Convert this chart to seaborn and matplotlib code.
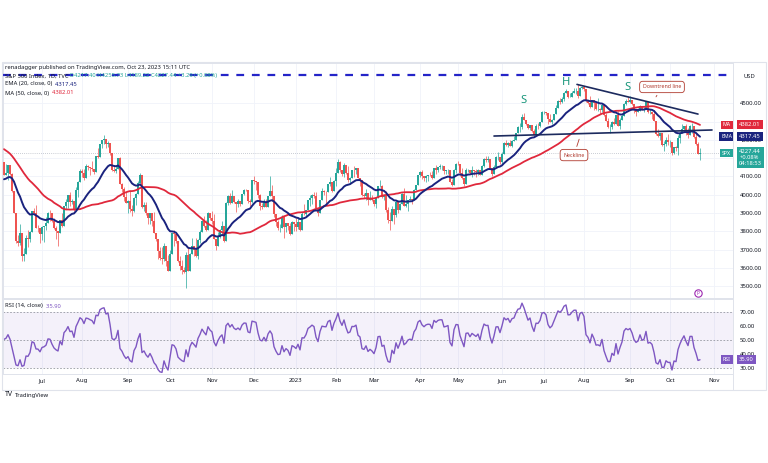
import numpy as np
import pandas as pd
import matplotlib.pyplot as plt
import matplotlib.transforms as mtransforms
from matplotlib.patches import Rectangle
import seaborn as sns

# S&P 500 daily closes before the first visible bar (Mar 24 - Jun 2, 2022),
# only used so the moving averages and RSI are warmed up
warmup_close = [4520, 4543, 4575, 4632, 4602, 4530,
                4546, 4583, 4526, 4481, 4500, 4488, 4413, 4397, 4447, 4392,
                4391, 4463, 4459, 4394, 4272, 4297, 4175, 4184, 4288, 4132,
                4155, 4175, 4301, 4147, 4123, 3991, 4001, 3935, 3930, 4024,
                4008, 4088, 3923, 3901, 3901, 3974, 3941, 3979, 4058, 4158, 4132,
                4101, 4177]

# visible bars, Jun 3 2022 - Oct 23 2023, one line per month
close = [
    4109, 4121, 4161, 4116, 4018, 3901, 3750, 3735, 3790, 3667, 3675, 3765, 3760, 3796, 3912, 3900, 3821, 3819, 3785,
    3825, 3831, 3845, 3902, 3899, 3855, 3819, 3801, 3790, 3863, 3831, 3937, 3960, 3999, 3962, 3967, 3921, 4024, 4072, 4130,
    4119, 4091, 4155, 4152, 4145, 4140, 4122, 4210, 4207, 4280, 4297, 4305, 4275, 4284, 4228, 4138, 4128, 4141, 4199, 4058, 4031, 3986, 3955,
    3967, 3924, 3909, 3980, 4006, 4067, 4110, 3932, 3946, 3901, 3873, 3900, 3856, 3790, 3758, 3693, 3655, 3647, 3719, 3640, 3586,
    3678, 3791, 3783, 3745, 3640, 3612, 3589, 3577, 3670, 3583, 3677, 3720, 3696, 3666, 3753, 3797, 3859, 3831, 3807, 3901, 3872,
    3856, 3760, 3720, 3771, 3807, 3828, 3749, 3956, 3993, 3957, 3992, 3959, 3947, 3965, 3950, 4003, 4027, 4026, 3964, 3958, 4080,
    4076, 4072, 3999, 3941, 3934, 3963, 3934, 3991, 4019, 3996, 3896, 3852, 3818, 3821, 3879, 3823, 3845, 3829, 3783, 3849, 3840,
    3825, 3853, 3808, 3895, 3893, 3919, 3970, 3983, 3999, 3991, 3929, 3899, 3973, 4020, 4017, 4016, 4060, 4071, 4018, 4077,
    4119, 4180, 4136, 4111, 4164, 4118, 4082, 4090, 4137, 4136, 4148, 4090, 4079, 3997, 3991, 4012, 3970, 3982, 3970,
    3951, 3981, 4046, 4048, 3986, 3992, 3918, 3862, 3855, 3920, 3892, 3960, 3917, 3952, 4003, 3937, 3949, 3971, 3977, 3971, 4028, 4051, 4109,
    4124, 4101, 4091, 4105, 4110, 4109, 4092, 4146, 4138, 4151, 4155, 4155, 4130, 4133, 4137, 4072, 4056, 4136, 4169,
    4168, 4120, 4091, 4061, 4136, 4138, 4119, 4138, 4131, 4124, 4136, 4110, 4159, 4198, 4192, 4193, 4146, 4115, 4151, 4205, 4206, 4180,
    4222, 4282, 4273, 4284, 4268, 4294, 4299, 4338, 4369, 4373, 4426, 4410, 4389, 4366, 4381, 4349, 4328, 4378, 4377, 4396, 4450,
    4455, 4447, 4412, 4399, 4410, 4439, 4472, 4510, 4505, 4522, 4555, 4566, 4535, 4536, 4554, 4567, 4567, 4537, 4582, 4589,
    4577, 4513, 4502, 4478, 4518, 4499, 4468, 4469, 4464, 4490, 4437, 4404, 4370, 4370, 4400, 4388, 4436, 4376, 4406, 4433, 4497, 4514, 4508,
    4516, 4497, 4465, 4451, 4457, 4487, 4462, 4467, 4505, 4450, 4454, 4444, 4402, 4330, 4320, 4337, 4274, 4275, 4300, 4288,
    4288, 4229, 4263, 4258, 4308, 4336, 4358, 4377, 4350, 4327, 4374, 4374, 4315, 4278, 4224, 4227,
]
high = [
    4143, 4169, 4164, 4164, 4120, 3974, 3838, 3778, 3838, 3729, 3707, 3780, 3810, 3802, 3913, 3928, 3946, 3837, 3818,
    3829, 3832, 3876, 3906, 3919, 3880, 3874, 3829, 3796, 3863, 3903, 3939, 3975, 3999, 4013, 3975, 3953, 4040, 4078, 4140,
    4141, 4140, 4167, 4161, 4152, 4187, 4138, 4211, 4257, 4280, 4301, 4325, 4302, 4292, 4267, 4196, 4159, 4156, 4200, 4204, 4063, 4044, 4015,
    3970, 4018, 3942, 3987, 4010, 4077, 4119, 4063, 3961, 3959, 3880, 3900, 3876, 3907, 3790, 3727, 3715, 3716, 3736, 3688, 3671,
    3696, 3791, 3806, 3797, 3711, 3665, 3641, 3606, 3685, 3713, 3683, 3762, 3714, 3765, 3757, 3810, 3862, 3886, 3860, 3905, 3893,
    3911, 3894, 3751, 3796, 3814, 3859, 3818, 3959, 4001, 4009, 4028, 3983, 3954, 3979, 3962, 4003, 4034, 4034, 4013, 3976, 4080,
    4101, 4077, 4053, 4002, 3957, 3977, 3977, 3991, 4101, 4053, 3958, 3876, 3864, 3839, 3890, 3872, 3846, 3846, 3848, 3859, 3840,
    3872, 3873, 3839, 3906, 3951, 3919, 3970, 3997, 4004, 4016, 4015, 3912, 3973, 4039, 4028, 4019, 4061, 4095, 4063, 4079,
    4148, 4195, 4182, 4124, 4176, 4161, 4157, 4095, 4138, 4159, 4149, 4136, 4081, 4050, 4010, 4029, 3982, 4019, 3998,
    3972, 3985, 4048, 4079, 4051, 4000, 4018, 3935, 3906, 3938, 3894, 3965, 3958, 3956, 4010, 4039, 4000, 3972, 3996, 3979, 4030, 4055, 4110,
    4128, 4133, 4100, 4108, 4110, 4125, 4132, 4148, 4164, 4152, 4169, 4163, 4148, 4138, 4143, 4127, 4088, 4139, 4171,
    4184, 4164, 4148, 4083, 4148, 4143, 4131, 4155, 4133, 4143, 4139, 4135, 4165, 4202, 4213, 4210, 4187, 4131, 4165, 4213, 4232, 4193,
    4232, 4290, 4299, 4288, 4300, 4298, 4322, 4340, 4375, 4391, 4439, 4448, 4401, 4387, 4382, 4367, 4362, 4385, 4390, 4398, 4458,
    4456, 4454, 4422, 4440, 4412, 4443, 4489, 4517, 4528, 4532, 4563, 4578, 4565, 4555, 4568, 4581, 4582, 4607, 4590, 4595,
    4585, 4550, 4519, 4540, 4520, 4503, 4503, 4528, 4476, 4490, 4478, 4449, 4421, 4386, 4401, 4418, 4437, 4458, 4418, 4440, 4501, 4521, 4532,
    4541, 4515, 4497, 4457, 4474, 4490, 4479, 4479, 4511, 4498, 4466, 4451, 4461, 4376, 4357, 4338, 4314, 4293, 4318, 4333,
    4300, 4281, 4263, 4268, 4324, 4341, 4385, 4378, 4386, 4367, 4383, 4394, 4375, 4339, 4287, 4256,
]
low = [
    4107, 4109, 4080, 4110, 4017, 3900, 3735, 3722, 3723, 3640, 3637, 3705, 3716, 3743, 3810, 3889, 3820, 3799, 3738,
    3752, 3742, 3810, 3859, 3858, 3849, 3812, 3759, 3722, 3817, 3824, 3860, 3922, 3927, 3938, 3947, 3911, 3953, 3990, 4079,
    4097, 4079, 4107, 4135, 4108, 4128, 4112, 4178, 4201, 4226, 4256, 4277, 4253, 4262, 4218, 4129, 4124, 4119, 4147, 4057, 4017, 3965, 3954,
    3903, 3907, 3886, 3907, 3944, 4023, 4084, 3929, 3913, 3888, 3838, 3839, 3827, 3789, 3750, 3648, 3644, 3624, 3640, 3610, 3584,
    3584, 3726, 3722, 3739, 3633, 3590, 3569, 3571, 3491, 3582, 3632, 3680, 3666, 3658, 3648, 3734, 3799, 3825, 3803, 3808, 3863,
    3843, 3758, 3698, 3722, 3765, 3786, 3744, 3859, 3944, 3949, 3953, 3954, 3906, 3933, 3940, 3956, 3999, 4020, 3956, 3938, 3954,
    4058, 4027, 3984, 3918, 3922, 3933, 3934, 3935, 3994, 3966, 3880, 3828, 3807, 3796, 3828, 3765, 3796, 3809, 3781, 3801, 3801,
    3800, 3815, 3802, 3809, 3890, 3877, 3925, 3937, 3947, 3985, 3925, 3886, 3909, 3972, 3997, 3949, 4014, 4048, 4015, 4021,
    4048, 4142, 4123, 4103, 4097, 4111, 4070, 4060, 4093, 4095, 4114, 4089, 4048, 3995, 3981, 3972, 3943, 3977, 3968,
    3940, 3928, 3988, 4044, 3980, 3970, 3908, 3847, 3809, 3874, 3838, 3876, 3902, 3917, 3964, 3936, 3931, 3909, 3970, 3952, 3999, 4041, 4056,
    4096, 4087, 4073, 4069, 4073, 4104, 4087, 4100, 4114, 4124, 4140, 4136, 4115, 4114, 4114, 4071, 4049, 4073, 4119,
    4163, 4104, 4088, 4048, 4080, 4123, 4115, 4099, 4110, 4099, 4110, 4109, 4113, 4154, 4180, 4180, 4145, 4103, 4129, 4154, 4190, 4166,
    4169, 4241, 4266, 4263, 4265, 4261, 4292, 4304, 4349, 4345, 4362, 4407, 4380, 4360, 4353, 4341, 4328, 4335, 4361, 4371, 4423,
    4442, 4437, 4385, 4397, 4389, 4408, 4464, 4491, 4494, 4504, 4514, 4557, 4527, 4532, 4545, 4556, 4548, 4528, 4557, 4580,
    4567, 4505, 4497, 4474, 4491, 4464, 4461, 4458, 4443, 4453, 4432, 4403, 4365, 4335, 4360, 4383, 4401, 4376, 4357, 4417, 4432, 4493, 4507,
    4502, 4490, 4448, 4431, 4451, 4467, 4461, 4453, 4479, 4447, 4443, 4416, 4401, 4329, 4316, 4302, 4265, 4239, 4264, 4274,
    4260, 4220, 4225, 4237, 4220, 4283, 4340, 4345, 4325, 4311, 4335, 4339, 4308, 4270, 4223, 4190,
]

# trading days per month on the time axis (Jun 2022 counted from the 3rd)
month_days = [19, 20, 23, 21, 21, 21, 21, 20, 19, 23, 19, 22, 21, 20, 23, 20, 22]
month_names = ['Jul', 'Aug', 'Sep', 'Oct', 'Nov', 'Dec', '2023', 'Feb', 'Mar',
               'Apr', 'May', 'Jun', 'Jul', 'Aug', 'Sep', 'Oct', 'Nov']

# price scale labels not hidden behind the MA / SPX tags
price_ticks = [3500, 3600, 3700, 3800, 3900, 4000, 4100, 4300, 4500]
rsi_ticks = [30, 40, 50, 60, 70]

# drawings on the chart, as (bar index, price)
neckline_x, neckline_y = [245, 354], [4321, 4354]
downtrend_x, downtrend_y = [286.5, 347], [4603, 4441]
resistance_level = 4655
pattern_text = ['S', 'H', 'S']
pattern_x = [259.5, 281, 311.5]
pattern_y = [4513, 4611, 4584]

assert len(close) == len(high) == len(low)

UP, DOWN = '#26a69a', '#ef5350'
EMA_C, MA_C, RSI_C = '#1a237e', '#e0283c', '#7e57c2'
TEXT_C, GRID_C, BORDER_C = '#131722', '#f0f3fa', '#e0e3eb'

sns.set_theme(style='white')
plt.rcParams['font.family'] = ['Noto Sans', 'DejaVu Sans']

# indicators
n_warm = len(warmup_close)
s = pd.Series(warmup_close + close, dtype=float)
ema20 = s.ewm(span=20, adjust=False).mean().iloc[n_warm:].to_numpy()
ma50 = s.rolling(50).mean().iloc[n_warm:].to_numpy()
delta = s.diff()
avg_up = delta.clip(lower=0).ewm(alpha=1 / 14, adjust=False).mean()
avg_dn = (-delta.clip(upper=0)).ewm(alpha=1 / 14, adjust=False).mean()
rsi = (100 - 100 / (1 + avg_up / avg_dn)).iloc[n_warm:].to_numpy()

x = np.arange(len(close))
c = np.array(close, dtype=float)
o = np.array(warmup_close[-1:] + close[:-1], dtype=float)  # index opens at prior close
h = np.maximum(np.array(high, dtype=float), np.maximum(o, c))
l = np.minimum(np.array(low, dtype=float), np.minimum(o, c))
colors = np.where(c >= o, UP, DOWN)
month_starts = np.cumsum(month_days)

W, H = 768, 463


def frac(x0, y0, x1, y1):
    return [x0 / W, 1 - y1 / H, (x1 - x0) / W, (y1 - y0) / H]


fig = plt.figure(figsize=(7.68, 4.63), dpi=100)
fig.patch.set_facecolor('white')
ax = fig.add_axes(frac(3, 63, 733, 298))
rax = fig.add_axes(frac(3, 299, 733, 374), sharex=ax)

# price panel
ax.vlines(x, l, h, colors=colors, lw=0.5, zorder=2)
ax.bar(x, np.maximum(np.abs(c - o), 1.5), bottom=np.minimum(o, c), width=0.7,
       color=colors, linewidth=0, zorder=3)
sns.lineplot(x=x, y=ma50, ax=ax, color=MA_C, lw=1.3, zorder=4)
sns.lineplot(x=x, y=ema20, ax=ax, color=EMA_C, lw=1.4, zorder=4)
ax.plot(neckline_x, neckline_y, color='#1c2a5e', lw=1.2, zorder=5)
ax.plot(downtrend_x, downtrend_y, color='#1c2a5e', lw=1.2, zorder=5)
ax.axhline(resistance_level, color='#2424c8', lw=1.6, dashes=(3.5, 3.5), zorder=5)
ax.axhline(close[-1], color='#9aa0ad', lw=0.5, ls=(0, (1, 2)), zorder=1)

for t, px_, py_ in zip(pattern_text, pattern_x, pattern_y):
    ax.text(px_, py_, t, color='#18967a', fontsize=8, fontweight='bold',
            ha='center', va='center', zorder=6)

ax.annotate('Downtrend line', xy=(326, 4535), xytext=(329, 4589), ha='center', va='center',
            fontsize=3.8, color='#b03a2e', zorder=7,
            bbox=dict(boxstyle='round,pad=0.6', fc='white', ec='#b03a2e', lw=0.6),
            arrowprops=dict(arrowstyle='-', color='#b03a2e', lw=0.6))
ax.annotate('Neckline', xy=(288, 4318), xytext=(285, 4217), ha='center', va='center',
            fontsize=3.8, color='#b03a2e', zorder=7,
            bbox=dict(boxstyle='round,pad=0.6', fc='white', ec='#b03a2e', lw=0.6),
            arrowprops=dict(arrowstyle='-', color='#b03a2e', lw=0.6))

ax.scatter([347], [3463], s=28, facecolor='white', edgecolor='#9c27b0', lw=0.8, zorder=6)
ax.text(347, 3463, 'P', fontsize=3.5, color='#9c27b0', ha='center', va='center', zorder=7)

ax.set_xlim(-0.5, 364.5)
ax.set_ylim(3436, 4720)
ax.yaxis.tick_right()
ax.set_yticks(price_ticks)
ax.set_yticklabels([f'{v:.2f}' for v in price_ticks])
ax.tick_params(axis='y', length=0, pad=5, labelsize=4.3, labelcolor=TEXT_C)
ax.set_xticks(month_starts)
ax.tick_params(axis='x', length=0, labelbottom=False)
ax.grid(True, axis='x', color=GRID_C, lw=0.6)
for lvl in range(3500, 4600, 100):
    ax.axhline(lvl, color=GRID_C, lw=0.6, zorder=0)
ax.set_axisbelow(True)

# RSI panel
rax.axhspan(30, 70, color=RSI_C, alpha=0.08, lw=0)
for lvl in (70, 50, 30):
    rax.axhline(lvl, color='#9598a1', lw=0.6, dashes=(2, 2))
sns.lineplot(x=x, y=rsi, ax=rax, color=RSI_C, lw=1.0)
rax.set_ylim(25.7, 79.3)
rax.yaxis.tick_right()
rax.set_yticks(rsi_ticks)
rax.set_yticklabels([f'{v:.2f}' for v in rsi_ticks])
rax.tick_params(axis='y', length=0, pad=5, labelsize=4.3, labelcolor=TEXT_C)
rax.set_xticks(month_starts)
rax.set_xticklabels(month_names)
rax.tick_params(axis='x', length=0, pad=3, labelsize=4.3, labelcolor=TEXT_C, labelbottom=True)
rax.grid(True, axis='x', color=GRID_C, lw=0.6)

for a in (ax, rax):
    a.set_xlabel('')
    a.set_ylabel('')
    for sp in a.spines.values():
        sp.set_color(BORDER_C)
        sp.set_linewidth(0.7)


# right-scale tags
def price_tag(axis, y, label, value, color, top_shift=0.0):
    tr = mtransforms.blended_transform_factory(axis.transAxes, axis.transData)
    axis.text(0.9915, y, label, transform=tr, ha='center', va='center', fontsize=3.8,
              color='white', clip_on=False, zorder=8,
              bbox=dict(boxstyle='square,pad=0.35', fc=color, ec='none'))
    if top_shift:
        tr2 = mtransforms.offset_copy(tr, fig=fig, y=top_shift, units='points')
        axis.text(1.0085, y, value, transform=tr2, ha='left', va='top', fontsize=4.2,
                  color='white', clip_on=False, zorder=8, linespacing=1.25,
                  bbox=dict(boxstyle='square,pad=0.35', fc=color, ec='none'))
    else:
        axis.text(1.0085, y, value, transform=tr, ha='left', va='center', fontsize=4.2,
                  color='white', clip_on=False, zorder=8,
                  bbox=dict(boxstyle='square,pad=0.35', fc=color, ec='none'))


price_tag(ax, 4382.01, 'MA', '4382.01', MA_C)
price_tag(ax, 4317.45, 'EMA', '4317.45', EMA_C)
price_tag(ax, 4227.44, 'SPX', '4227.44\n+0.08%\n04:18:53', UP, top_shift=3.2)
price_tag(rax, 35.90, 'RSI', '35.90', RSI_C)


# header texts
def px(xp, yp):
    return xp / W, 1 - yp / H


fig.text(*px(5, 67), 'renadagger published on TradingView.com, Oct 23, 2023 15:11 UTC',
         fontsize=4.2, color=TEXT_C, va='center')
t1 = fig.text(*px(5, 76), 'S&P 500 Index, 1D, TVC', fontsize=4.2, color=TEXT_C, va='center')
fig.add_artist(plt.Annotation(' O4217.40 H4255.73 L4189.22 C4227.44 +3.29 (+0.08%)',
                              xy=(1, 0), xycoords=t1, va='bottom', fontsize=4.2, color=UP))
t2 = fig.text(*px(5, 84), 'EMA (20, close, 0)', fontsize=4.2, color=TEXT_C, va='center')
fig.add_artist(plt.Annotation('  4317.45', xy=(1, 0), xycoords=t2, va='bottom',
                              fontsize=4.2, color=EMA_C))
t3 = fig.text(*px(5, 93), 'MA (50, close, 0)', fontsize=4.2, color=TEXT_C, va='center')
fig.add_artist(plt.Annotation('  4382.01', xy=(1, 0), xycoords=t3, va='bottom',
                              fontsize=4.2, color=MA_C))
t4 = fig.text(*px(5, 306), 'RSI (14, close)', fontsize=4.2, color=TEXT_C, va='center')
fig.add_artist(plt.Annotation('  35.90', xy=(1, 0), xycoords=t4, va='bottom',
                              fontsize=4.2, color=RSI_C))
fig.text(*px(743, 77), 'USD', fontsize=4.2, color=TEXT_C, va='center')

# frame and footer
fig.add_artist(Rectangle((2 / W, 1 - 390 / H), 764 / W, 328 / H, transform=fig.transFigure,
                         fill=False, ec=BORDER_C, lw=0.8))
fig.add_artist(plt.Line2D([733 / W, 733 / W], [1 - 390 / H, 1 - 62 / H],
                          transform=fig.transFigure, color=BORDER_C, lw=0.7))
fig.text(*px(5, 395), 'TV', fontsize=5, fontweight='bold', color=TEXT_C, va='center')
fig.text(*px(15, 395), 'TradingView', fontsize=4.2, color=TEXT_C, va='center')

fig.savefig('out.png', dpi=100)
